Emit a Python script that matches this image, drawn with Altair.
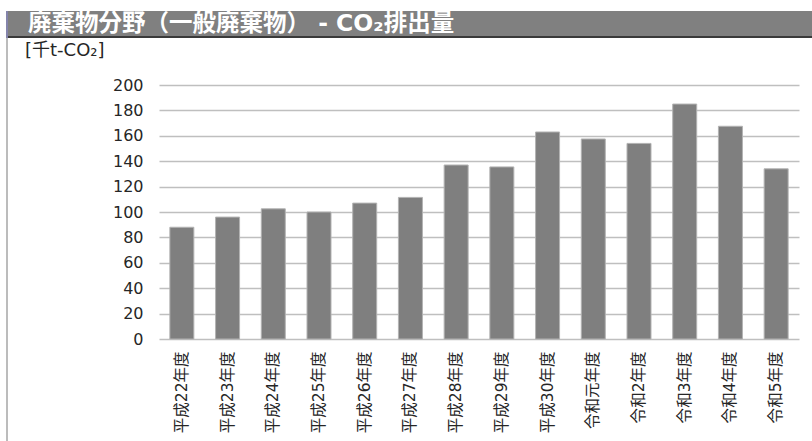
import altair as alt
import pandas as pd

# Fiscal years and CO2 emissions (thousand t-CO2)
years = ["平成22年度", "平成23年度", "平成24年度", "平成25年度", "平成26年度",
         "平成27年度", "平成28年度", "平成29年度", "平成30年度", "令和元年度",
         "令和2年度", "令和3年度", "令和4年度", "令和5年度"]
emissions = [88, 96, 102.5, 100, 107, 111.5, 137, 135.5, 163, 157.5, 154, 185, 167.5, 134]
y_ticks = list(range(0, 201, 20))

title_text = "廃棄物分野（一般廃棄物） - CO₂排出量"
unit_text = "[千t-CO₂]"

FONT = "DejaVu Sans, Noto Sans CJK JP"

df = pd.DataFrame({"year": years, "value": emissions})
one = pd.DataFrame({"k": [0]})

bars = alt.Chart(df).mark_bar(
    color="#7f7f7f", stroke="#b3b3b3", strokeWidth=1
).encode(
    x=alt.X("year:N", sort=years, title=None,
            scale=alt.Scale(paddingInner=0.475, paddingOuter=0.2375),
            axis=alt.Axis(labelAngle=270, labelPadding=12, labelFontSize=15.5,
                          labelFont=FONT, labelColor="#262626",
                          domain=False, ticks=False, grid=False)),
    y=alt.Y("value:Q", title=None,
            scale=alt.Scale(domain=[0, 200], nice=False),
            axis=alt.Axis(values=y_ticks, labelPadding=16, labelFontSize=16,
                          labelFont=FONT, labelColor="#262626",
                          domain=False, ticks=False, grid=True,
                          gridColor="#bfbfbf", gridWidth=1.5)),
)

# Header band with its dark underline
header = alt.Chart(one).mark_rect(color="#808080").encode(
    x=alt.value(-151), x2=alt.value(653), y=alt.value(-74), y2=alt.value(-49)
)
underline = alt.Chart(one).mark_rect(color="#3a3a3a").encode(
    x=alt.value(-151), x2=alt.value(653), y=alt.value(-49), y2=alt.value(-47)
)
left_edge_top = alt.Chart(one).mark_rule(color="#5b5b8f", strokeWidth=1.5).encode(
    x=alt.value(-152), y=alt.value(-74), y2=alt.value(-47)
)
left_edge = alt.Chart(one).mark_rule(color="#a6a6a6", strokeWidth=1.5).encode(
    x=alt.value(-152), y=alt.value(-47), y2=alt.value(356)
)

header_text = alt.Chart(pd.DataFrame({"t": [title_text]})).mark_text(
    align="left", baseline="middle", font=FONT, fontSize=23.5,
    fontWeight="bold", color="white"
).encode(x=alt.value(-131), y=alt.value(-61), text="t:N")

unit_label = alt.Chart(pd.DataFrame({"t": [unit_text]})).mark_text(
    align="left", baseline="middle", font=FONT, fontSize=18, color="#262626"
).encode(x=alt.value(-134), y=alt.value(-34), text="t:N")

chart = alt.layer(
    bars, header, underline, left_edge_top, left_edge, header_text, unit_label
).properties(
    width=640, height=254,
    autosize=alt.AutoSizeParams(type="none"),
    padding={"left": 159, "top": 85, "right": 13, "bottom": 102},
    background="white",
).configure_view(stroke=None)

chart.save("out.html", embed_options={"renderer": "svg", "actions": False})
